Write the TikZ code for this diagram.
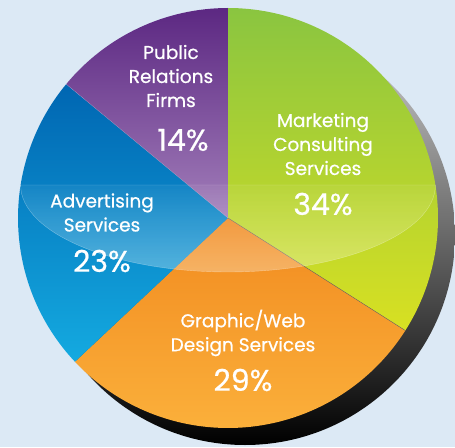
\documentclass[tikz,border=0pt]{standalone}
\usepackage{fontspec}
\setmainfont{Poppins}[FakeBold=0.6]
\usetikzlibrary{fadings}
\definecolor{bgblue}{RGB}{220,233,245}
\definecolor{purpletop}{RGB}{92,40,130}
\definecolor{purplebot}{RGB}{162,126,186}
\definecolor{greentop}{RGB}{138,197,64}
\definecolor{greenbot}{RGB}{216,224,34}
\definecolor{orangetop}{RGB}{241,138,31}
\definecolor{orangebot}{RGB}{251,176,59}
\definecolor{bluetop}{RGB}{0,102,178}
\definecolor{bluebot}{RGB}{20,170,224}
\tikzset{
  label/.style={text=white, align=center, font=\fontsize{18.5}{24}\selectfont},
  percent/.style={text=white, font=\fontsize{30}{30}\selectfont},
}
\begin{document}
\begin{tikzpicture}[x=1pt,y=1pt]
\useasboundingbox (-228,-229) rectangle (227,218);
\fill[bgblue] (-228,-229) rectangle (227,218);
% shadow
\shade[top color=black!18, middle color=black!55, bottom color=black] (17,-17) circle (210);
% slices
\shade[top color=greentop, bottom color=greenbot] (0,0) -- (90:210) arc[start angle=90, end angle=-32.4, radius=210] -- cycle;
\shade[top color=orangetop, bottom color=orangebot] (0,0) -- (-32.4:210) arc[start angle=-32.4, end angle=-136.8, radius=210] -- cycle;
\shade[top color=bluetop, bottom color=bluebot] (0,0) -- (-136.8:210) arc[start angle=-136.8, end angle=-219.6, radius=210] -- cycle;
\shade[top color=purpletop, bottom color=purplebot] (0,0) -- (140.4:210) arc[start angle=140.4, end angle=90, radius=210] -- cycle;
\draw[black!60, line width=0.4pt] (0,0) -- (-32.4:210);
\draw[white, opacity=0.3, line width=0.3pt] (0,0) -- (140.4:210);
% gloss
\fill[white, fill opacity=0.06] (-207.4,33) -- (207.4,33) arc[start angle=0, end angle=-180, x radius=207.4, y radius=87] -- cycle;
\fill[white, fill opacity=0.25, path fading=north] (-207.4,33) -- (207.4,33) arc[start angle=0, end angle=-180, x radius=207.4, y radius=87] -- cycle;
\draw[white, opacity=0.35, line width=0.4pt] (-207.4,33) -- (207.4,33) arc[start angle=0, end angle=-180, x radius=207.4, y radius=87];
%
\node[label] at (-57,142) (pr) {Public\\Relations\\Firms};
\node[percent] at (-45,78) (pr pct) {14\%};
\node[label] at (95,74) (mc) {Marketing\\Consulting\\Services};
\node[percent] at (95,14) (mc pct) {34\%};
\node[label] at (-126,5.5) (ad) {Advertising\\Services};
\node[percent] at (-126,-43) (ad pct) {23\%};
\node[label] at (15,-115) (gw) {Graphic/Web\\Design Services};
\node[percent] at (15,-162) (gw pct) {29\%};
\end{tikzpicture}
\end{document}
